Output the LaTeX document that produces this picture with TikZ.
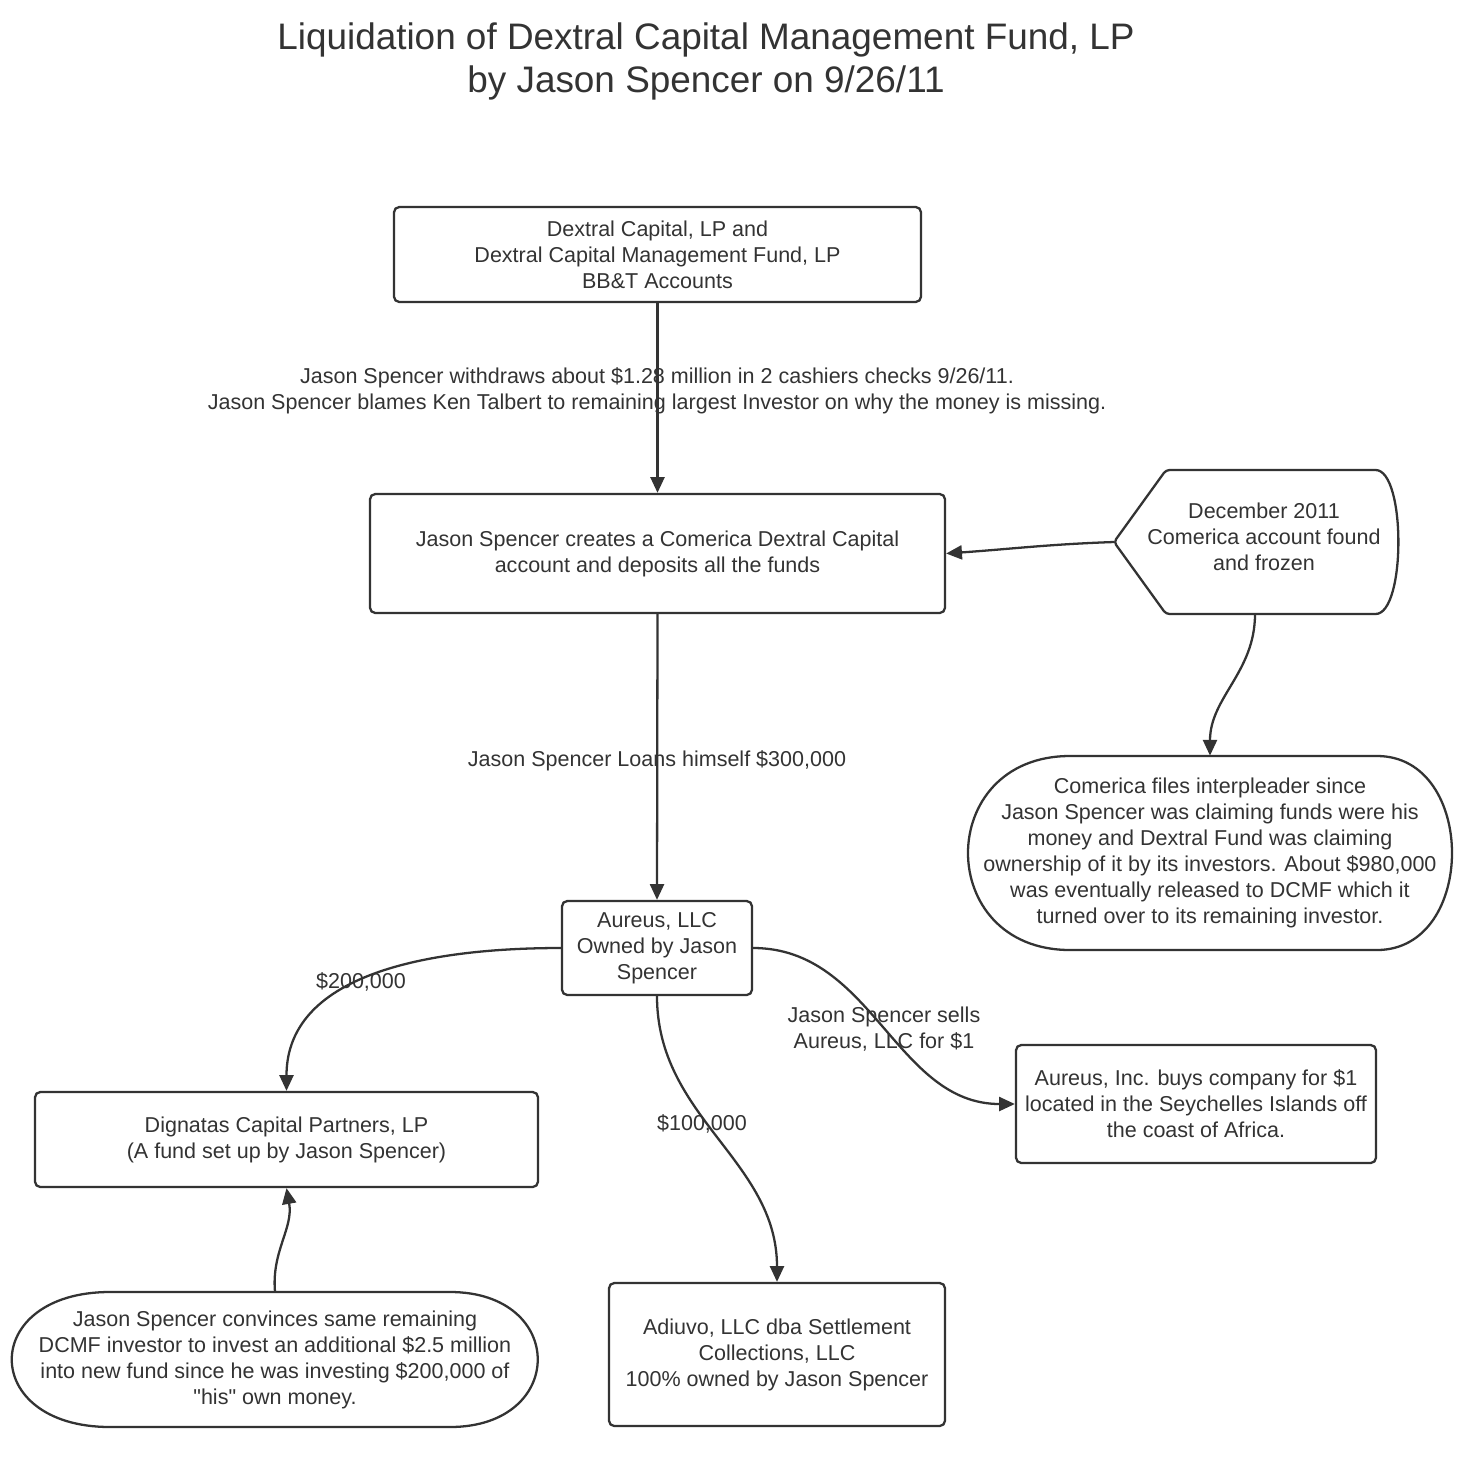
\documentclass[tikz,border=0pt]{standalone}
\usepackage{fontspec}
\setmainfont{Liberation Sans}[Ligatures=TeXOff]
\usetikzlibrary{arrows.meta}
\definecolor{ink}{HTML}{333333}
\begin{document}
\begin{tikzpicture}[x=0.02cm,y=-0.02cm,
  every node/.style={text=ink, font=\fontsize{12.25}{14.8}\selectfont, align=center, inner sep=0pt},
  box/.style 2 args={draw=ink, line width=1.3pt, rounded corners=3pt, minimum width=#1*0.02cm, minimum height=#2*0.02cm},
  area/.style 2 args={minimum width=#1*0.02cm, minimum height=#2*0.02cm},
  conn/.style={draw=ink, line width=1.3pt, -{Triangle[length=9pt,width=8pt]}},
  shapeline/.style={draw=ink, line width=1.3pt, rounded corners=2pt},
  pillline/.style={draw=ink, line width=1.3pt, line join=round},
  titlefont/.style={font=\fontsize{21}{24.5}\selectfont}]
\useasboundingbox (0,0) rectangle (1457,1461);
\fill[white] (0,0) rectangle (1457,1461);

\node[titlefont] (title) at (706,61) {Liquidation of Dextral Capital Management Fund, LP\\by Jason Spencer on 9/26/11};

\node[box={527}{95}] (bbt) at (657.5,254.5) {Dextral Capital, LP and\\Dextral Capital Management Fund, LP\\BB\&T Accounts};
\node[box={575}{119}] (com) at (657.5,553.5) {Jason Spencer creates a Comerica Dextral Capital\\account and deposits all the funds};

% December 2011 display shape
\draw[shapeline] (1114,542) -- (1166,470) -- (1372,470) .. controls (1406,470) and (1406,614) .. (1372,614) -- (1166,614) -- cycle;
\node (dec) at (1264,537) {December 2011\\Comerica account found\\and frozen};
\coordinate (decL) at (1114,542);
\coordinate (decB) at (1255,614);

% Comerica files pill
\draw[pillline] (1070,756) -- (1377,756) .. controls (1477,756) and (1477,950) .. (1377,950) -- (1070,950) .. controls (934,950) and (934,756) .. cycle;
\node[area={484}{194}] (cfi) at (1210,853) {Comerica files interpleader since\\Jason Spencer was claiming funds were his\\money and Dextral Fund was claiming\\ownership of it by its investors. About \$980,000\\was eventually released to DCMF which it\\turned over to its remaining investor.};

\node[box={190}{94}] (aur) at (657,948) {Aureus, LLC\\Owned by Jason\\Spencer};
\node[box={360}{118}] (inc) at (1196,1104) {Aureus, Inc. buys company for \$1\\located in the Seychelles Islands off\\the coast of Africa.};
\node[box={503}{95}] (dig) at (286.5,1139.5) {Dignatas Capital Partners, LP\\(A fund set up by Jason Spencer)};
\node[box={336}{143}] (adi) at (777,1354.5) {Adiuvo, LLC dba Settlement\\Collections, LLC\\100\% owned by Jason Spencer};

% convinces pill
\draw[pillline] (110,1292) -- (450,1292) .. controls (567,1292) and (567,1427) .. (450,1427) -- (110,1427) .. controls (-21,1427) and (-21,1292) .. cycle;
\node[area={526}{135}] (conv) at (275,1359.5) {Jason Spencer convinces same remaining\\DCMF investor to invest an additional \$2.5 million\\into new fund since he was investing \$200,000 of\\"his" own money.};

\draw[conn] (bbt.south) -- (com.north);
\node (l1) at (657,391) {Jason Spencer withdraws about \$1.28 million in 2 cashiers checks 9/26/11.\\Jason Spencer blames Ken Talbert to remaining largest Investor on why the money is missing.};
\draw[conn] (decL) to[out=182,in=4] (com.east);
\draw[conn] (decB) to[out=-90,in=90] (cfi.north);
\draw[conn] (com.south) -- (aur.north);
\node (l2) at (657,761) {Jason Spencer Loans himself \$300,000};
\draw[conn] (aur.west) to[out=180,in=90] (dig.north);
\node (l3) at (361,982) {\$200,000};
\draw[conn] (aur.south) to[out=-90,in=90] (adi.north);
\node (l4) at (702,1124) {\$100,000};
\draw[conn] (aur.east) to[out=0,in=180] (inc.west);
\node (l5) at (884,1029) {Jason Spencer sells\\Aureus, LLC for \$1};
\draw[conn] (conv.north) to[out=95,in=-80] (dig.south);
\end{tikzpicture}
\end{document}
